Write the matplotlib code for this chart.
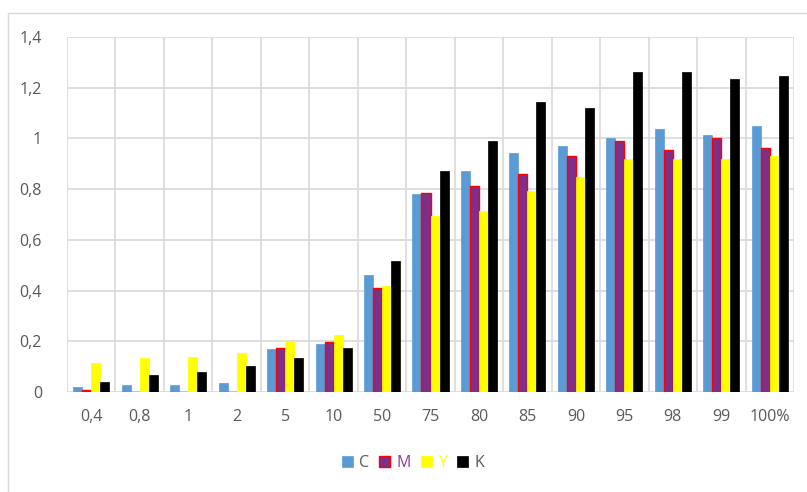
import matplotlib
matplotlib.use('Agg')
import matplotlib.pyplot as plt
import numpy as np
from matplotlib.patches import Rectangle

categories = ['0,4', '0,8', '1', '2', '5', '10', '50', '75', '80', '85', '90', '95', '98', '99', '100%']
c_vals = [0.018, 0.029, 0.029, 0.034, 0.169, 0.19, 0.46, 0.78, 0.872, 0.943, 0.97, 1.003, 1.039, 1.012, 1.05]
m_vals = [0.007, 0.0, 0.0, 0.0, 0.175, 0.197, 0.41, 0.786, 0.813, 0.86, 0.931, 0.99, 0.953, 1.0, 0.962]
y_vals = [0.113, 0.135, 0.14, 0.152, 0.201, 0.224, 0.42, 0.695, 0.715, 0.792, 0.846, 0.92, 0.92, 0.92, 0.931]
k_vals = [0.039, 0.067, 0.079, 0.102, 0.136, 0.175, 0.515, 0.872, 0.99, 1.143, 1.12, 1.262, 1.262, 1.234, 1.245]
y_ticks = [0, 0.2, 0.4, 0.6, 0.8, 1.0, 1.2, 1.4]
y_tick_labels = ['0', '0,2', '0,4', '0,6', '0,8', '1', '1,2', '1,4']

plt.rcParams['font.family'] = ['Open Sans', 'DejaVu Sans']
grey = '#595959'
gridc = '#d9d9d9'

fig = plt.figure(figsize=(8.07, 4.92), dpi=100)
# outer chart frame (cropped on right / bottom)
fig.patches.append(Rectangle((8 / 807, -0.1), 1.0, 1 - 13 / 492 + 0.1, transform=fig.transFigure,
                             fill=False, edgecolor=gridc, linewidth=1))

ax = fig.add_axes([67 / 807, 100 / 492, 727 / 807, 355 / 492])

x = np.arange(len(categories))
w = 0.186
series = [
    ('C', c_vals, '#5b9bd5', '#5b9bd5', grey),
    ('M', m_vals, '#7f2f87', '#ff0000', '#8e3a9a'),
    ('Y', y_vals, '#ffff00', '#ffff00', '#ffff00'),
    ('K', k_vals, '#000000', '#000000', grey),
]
handles = []
for i, (name, vals, fc, ec, tc) in enumerate(series):
    b = ax.bar(x + (i - 1.5) * w, vals, width=w, color=fc, edgecolor=ec,
               linewidth=1.0 if name == 'M' else 0.5, label=name, zorder=3)
    handles.append(b)

ax.set_xlim(-0.5, len(categories) - 0.5)
ax.set_ylim(0, 1.4)
ax.set_yticks(y_ticks)
ax.set_yticklabels(y_tick_labels)
ax.set_xticks(x)
ax.set_xticklabels(categories)
ax.tick_params(axis='both', length=0, colors=grey, labelsize=11.5)
ax.tick_params(axis='y', pad=18)
ax.tick_params(axis='x', pad=12)

# grid: horizontal lines and category separators
for yv in y_ticks:
    ax.axhline(yv, color=gridc, linewidth=1.2, zorder=1)
for xv in np.arange(-0.5, len(categories), 1.0):
    ax.axvline(xv, color=gridc, linewidth=1.2, zorder=1)
for s in ax.spines.values():
    s.set_visible(False)

leg = fig.legend(handles=handles, labels=[s[0] for s in series], loc='center',
                 bbox_to_anchor=(413 / 807, 1 - 463 / 492), ncol=4, frameon=False,
                 handlelength=0.7, handleheight=0.7, handletextpad=0.4,
                 columnspacing=0.6, fontsize=11.5)
for t, s in zip(leg.get_texts(), series):
    t.set_color(s[4])

fig.savefig('out.png', dpi=100)
